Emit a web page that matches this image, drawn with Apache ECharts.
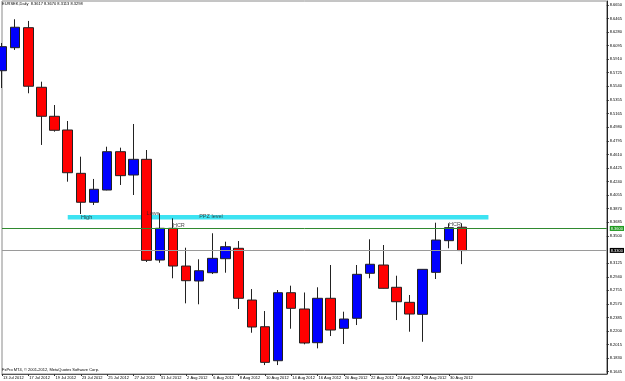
<!DOCTYPE html>
<html>
<head>
<meta charset="utf-8">
<script src="https://cdn.jsdelivr.net/npm/echarts@6/dist/echarts.min.js"></script>
<style>html,body{margin:0;padding:0;background:#fff;}#c{width:625px;height:381px;}</style>
</head>
<body>
<div id="c"></div>
<script>
const categories = ['13 Jul 2012','16 Jul 2012','17 Jul 2012','18 Jul 2012','19 Jul 2012','20 Jul 2012','23 Jul 2012','24 Jul 2012','25 Jul 2012','26 Jul 2012','27 Jul 2012','30 Jul 2012','31 Jul 2012','1 Aug 2012','2 Aug 2012','3 Aug 2012','6 Aug 2012','7 Aug 2012','8 Aug 2012','9 Aug 2012','10 Aug 2012','13 Aug 2012','14 Aug 2012','15 Aug 2012','16 Aug 2012','17 Aug 2012','20 Aug 2012','21 Aug 2012','22 Aug 2012','23 Aug 2012','24 Aug 2012','27 Aug 2012','28 Aug 2012','29 Aug 2012','30 Aug 2012','31 Aug 2012'];
const shiftDays = ['3 Sep 2012','4 Sep 2012','5 Sep 2012','6 Sep 2012','7 Sep 2012','10 Sep 2012','11 Sep 2012','12 Sep 2012','13 Sep 2012','14 Sep 2012','17 Sep 2012'];
const opens  = [8.5752,8.6066,8.6339,8.5526,8.5130,8.4943,8.4352,8.3957,8.4124,8.4647,8.4329,8.4543,8.3169,8.3602,8.3087,8.2883,8.2996,8.3187,8.3329,8.2623,8.2259,8.1795,8.2723,8.2501,8.2041,8.2647,8.2237,8.2374,8.2988,8.3101,8.2797,8.2592,8.2428,8.3001,8.3433,8.3617];
const closes = [8.6080,8.6345,8.5540,8.5130,8.4939,8.4360,8.3957,8.4134,8.4647,8.4320,8.4543,8.3165,8.3602,8.3087,8.2887,8.3023,8.3192,8.3351,8.2647,8.2255,8.1773,8.2723,8.2510,8.2037,8.2647,8.2214,8.2364,8.2974,8.3111,8.2783,8.2600,8.2432,8.3042,8.3442,8.3610,8.3298];
const highs  = [8.6130,8.6454,8.6431,8.5602,8.5284,8.5066,8.4579,8.4275,8.4715,8.4702,8.5025,8.4670,8.3806,8.3738,8.3337,8.3179,8.3534,8.3419,8.3428,8.2773,8.2473,8.2760,8.2819,8.2726,8.2797,8.3101,8.2464,8.3101,8.3452,8.3374,8.2955,8.2692,8.3045,8.3678,8.3670,8.3670];
const lows   = [8.5516,8.6035,8.5444,8.4739,8.4920,8.4238,8.3797,8.3920,8.4120,8.4193,8.4056,8.3142,8.3132,8.2920,8.2578,8.2565,8.2978,8.2996,8.2501,8.2177,8.1736,8.1736,8.2232,8.2019,8.1964,8.2132,8.2023,8.2282,8.2920,8.2780,8.2350,8.2191,8.2054,8.2910,8.3329,8.3113];
const yTickLabels = ['8.6650','8.6465','8.6280','8.6095','8.5910','8.5725','8.5540','8.5355','8.5165','8.4980','8.4795','8.4610','8.4425','8.4240','8.4055','8.3870','8.3685','8.3500','8.3125','8.2940','8.2755','8.2570','8.2385','8.2200','8.2015','8.1830','8.1645'];
const yMin = 8.1614, yMax = 8.6703;
const headerText = 'EURSEK,Daily  8.3617 8.3670 8.3113 8.3298';
const footerText = 'FxPro MT4, \u00a9 2001-2012, MetaQuotes Software Corp.';
const greenLevel = 8.3617;
const bidLevel = 8.3298;
const ppzBand = {fromIndex: 5, toIndex: 37, top: 8.3783, bottom: 8.3722};
const noteTexts = ['High','Lows','PPZ level','HCR','HCR'];
const noteIndex = [5.54, 11.47, 15.11, 12.53, 33.56];
const notePrice = [8.3752, 8.3800, 8.3760, 8.3647, 8.3651];

const allCats = categories.concat(shiftDays);
const ohlc = categories.map((c, i) => [opens[i], closes[i], lows[i], highs[i]]);
const notes = noteTexts.map((t, i) => ({value: [noteIndex[i], notePrice[i]], name: t}));
const FONT = 'Liberation Sans';
const lastLabelIdx = categories.length - 2;

const chart = echarts.init(document.getElementById('c'), null, {renderer: 'canvas'});
chart.setOption({
  animation: false,
  backgroundColor: '#ffffff',
  title: [
    {text: headerText, left: 2, top: 2, padding: 0, textStyle: {fontSize: 4, fontWeight: 'normal', color: '#000', fontFamily: FONT}},
    {text: footerText, left: 2, top: 368, padding: 0, textStyle: {fontSize: 4, fontWeight: 'normal', color: '#000', fontFamily: FONT}}
  ],
  grid: {left: 2, right: 17, top: 1, bottom: 7, show: true, borderColor: '#8a8a8a', borderWidth: 1, backgroundColor: '#fff'},
  xAxis: {
    type: 'category', data: allCats, boundaryGap: false,
    axisLine: {show: true, lineStyle: {color: '#555', width: 1}},
    axisTick: {show: true, length: 2, lineStyle: {color: '#333'}, interval: (i) => i % 2 === 0 && i <= lastLabelIdx},
    axisLabel: {interval: (i) => i % 2 === 0 && i <= lastLabelIdx, align: 'left', fontSize: 4, margin: 1.5, color: '#000', fontFamily: FONT, padding: [0,0,0,1]},
    splitLine: {show: false}
  },
  yAxis: {
    type: 'value', position: 'right', min: yMin, max: yMax, scale: true,
    axisLine: {show: true, lineStyle: {color: '#222', width: 1}},
    axisTick: {show: true, length: 2, lineStyle: {color: '#222'}, customValues: yTickLabels.map(Number)},
    axisLabel: {fontSize: 4, margin: 3, color: '#000', fontFamily: FONT, customValues: yTickLabels.map(Number), formatter: (v) => v.toFixed(4)},
    splitLine: {show: false}
  },
  series: [
    {
      type: 'candlestick', data: ohlc, barWidth: 10, clip: true,
      itemStyle: {color: '#0000ff', color0: '#ff0000', borderColor: '#222', borderColor0: '#222', borderWidth: 1},
      markArea: {
        silent: true,
        itemStyle: {color: '#3de3f2', opacity: 1},
        data: [[{coord: [ppzBand.fromIndex, ppzBand.top]}, {coord: [ppzBand.toIndex, ppzBand.bottom]}]]
      },
      markLine: {
        silent: true, symbol: ['none', 'none'], animation: false,
        data: [
          {yAxis: greenLevel, lineStyle: {color: '#2f8a2f', width: 1, type: 'solid'},
           label: {show: true, position: 'end', distance: 3, formatter: (p) => p.value.toFixed(4), backgroundColor: '#1f9a1f', color: '#fff', fontSize: 4, padding: [1, 1, 0, 1], fontFamily: FONT}},
          {yAxis: bidLevel, lineStyle: {color: '#9a9a9a', width: 1, type: 'solid'},
           label: {show: true, position: 'end', distance: 3, formatter: (p) => p.value.toFixed(4), backgroundColor: '#000', color: '#fff', fontSize: 4, padding: [1, 1, 0, 1], fontFamily: FONT}}
        ]
      }
    },
    {
      type: 'scatter', data: notes, symbolSize: 0, silent: true, z: 5,
      label: {show: true, position: [0, 0], align: 'left', verticalAlign: 'middle', formatter: (p) => p.name, fontSize: 5.5, color: '#222', fontFamily: FONT}
    }
  ]
});
</script>
</body>
</html>
